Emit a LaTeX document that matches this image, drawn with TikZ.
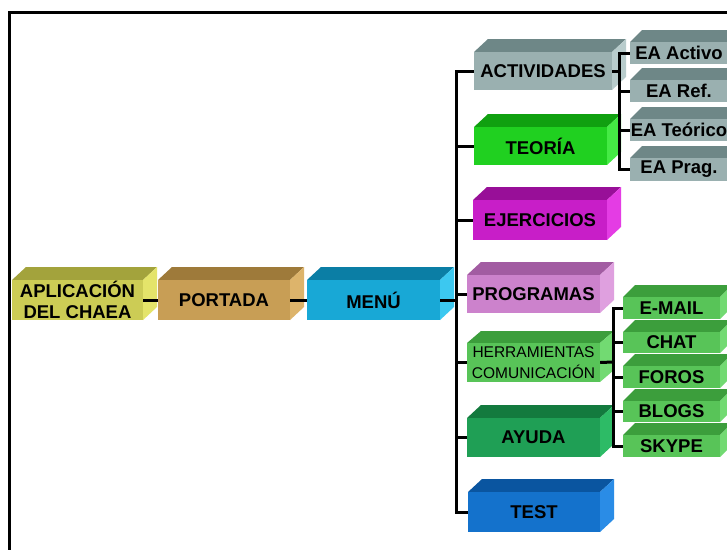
\documentclass[tikz,border=0pt]{standalone}
\usepackage{fontspec}
\setmainfont{Liberation Sans}
\definecolor{aplifront}{HTML}{CCCC55}\definecolor{aplitop}{HTML}{A3A33C}\definecolor{apliside}{HTML}{E4E46A}
\definecolor{portfront}{HTML}{C89E55}\definecolor{porttop}{HTML}{9E7A3A}\definecolor{portside}{HTML}{DDB46B}
\definecolor{menufront}{HTML}{18A8D6}\definecolor{menutop}{HTML}{0B7EA5}\definecolor{menuside}{HTML}{3CC8F0}
\definecolor{actfront}{HTML}{9AB0B0}\definecolor{acttop}{HTML}{6E8787}\definecolor{actside}{HTML}{B8CCCC}
\definecolor{teofront}{HTML}{20D020}\definecolor{teotop}{HTML}{10A010}\definecolor{teoside}{HTML}{44EA44}
\definecolor{ejefront}{HTML}{C81EC8}\definecolor{ejetop}{HTML}{980F98}\definecolor{ejeside}{HTML}{E43CE4}
\definecolor{progfront}{HTML}{CC82CC}\definecolor{progtop}{HTML}{A25CA2}\definecolor{progside}{HTML}{DFA0DF}
\definecolor{herrfront}{HTML}{58C458}\definecolor{herrtop}{HTML}{3C9E3C}\definecolor{herrside}{HTML}{72DA72}
\definecolor{ayufront}{HTML}{1F9F55}\definecolor{ayutop}{HTML}{137A3E}\definecolor{ayuside}{HTML}{2DBB66}
\definecolor{testfront}{HTML}{1472CC}\definecolor{testtop}{HTML}{0A55A0}\definecolor{testside}{HTML}{2A8CE6}
\tikzset{
  cubefront/.style={inner sep=0pt, text=black, align=center, font=\bfseries\fontsize{18.5}{21}\selectfont},
  conn/.style={line width=3pt, black},
  frameline/.style={line width=2.5pt, black}
}
% #1 name, #2 x1, #3 y1, #4 x2, #5 y2, #6 colour prefix, #7 dx, #8 dy, #9 text
\newcommand\cubebox[9]{%
  \fill[#6top] (#2,#3) -- ++(#7,-#8) -- ({#4+#7},{#3-#8}) -- (#4,#3) -- cycle;
  \fill[#6side] (#4,#3) -- ++(#7,-#8) -- ({#4+#7},{#5-#8}) -- (#4,#5) -- cycle;
  \node[cubefront, fill=#6front, minimum width={(#4-#2)*1pt}, minimum height={(#5-#3)*1pt}] (#1) at ({(#2+#4)/2},{(#3+#5)/2}) {#9};
}
\begin{document}
\begin{tikzpicture}[x=1pt,y=-1pt]
\useasboundingbox (0,0) rectangle (727,549);
\fill[white] (0,0) rectangle (727,549);
\draw[frameline] (9.5,12.5) rectangle (760,580);
% main chain
\cubebox{apli}{12}{280}{143}{320}{apli}{14}{13}{APLICACIÓN\\DEL CHAEA}
\cubebox{port}{158}{280}{290}{320}{port}{14}{13}{PORTADA}
\cubebox{menu}{307}{280}{440}{320}{menu}{14}{13}{MENÚ}
% menu children
\cubebox{act}{474}{52}{612}{90}{act}{14}{13}{ACTIVIDADES}
\cubebox{teo}{474}{127}{607}{165}{teo}{14}{13}{TEORÍA}
\cubebox{eje}{473}{200}{607}{240}{eje}{14}{13}{EJERCICIOS}
\cubebox{prog}{467}{275}{600}{313}{prog}{14}{13}{PROGRAMAS}
\cubebox{herr}{467}{343}{600}{382}{herr}{14}{12}{\mdseries\fontsize{15.5}{19}\selectfont HERRAMIENTAS\\\mdseries\fontsize{15.5}{19}\selectfont COMUNICACIÓN}
\cubebox{ayu}{467}{418}{600}{457}{ayu}{14}{13}{AYUDA}
\cubebox{test}{468}{492}{600}{532}{test}{14}{13}{TEST}
% EA children
\cubebox{eaact}{630}{42}{728}{64}{act}{12}{12}{EA Activo}
\cubebox{earef}{630}{80}{728}{102}{act}{12}{12}{EA Ref.}
\cubebox{eateo}{630}{119}{728}{141}{act}{12}{12}{EA Teórico}
\cubebox{eaprag}{630}{158}{728}{181}{act}{12}{12}{EA Prag.}
% communication children
\cubebox{mail}{623}{297}{720}{319}{herr}{12}{12}{E-MAIL}
\cubebox{chat}{623}{332}{720}{353}{herr}{12}{12}{CHAT}
\cubebox{foros}{623}{366}{720}{388}{herr}{12}{12}{FOROS}
\cubebox{blogs}{623}{401}{720}{422}{herr}{12}{12}{BLOGS}
\cubebox{skype}{623}{435}{720}{457}{herr}{12}{12}{SKYPE}
% connectors
\coordinate (trunk) at (456,300);
\coordinate (eatrunk) at (619,71);
\coordinate (comtrunk) at (613,362);
\draw[conn] (apli.east) -- (port.west);
\draw[conn] (port.east) -- (menu.west);
\draw[conn] (menu.east) -- (trunk);
\foreach \c in {act,teo,eje,prog,herr,ayu,test}
  \draw[conn] (trunk) |- (\c.west);
\draw[conn] (act.east) -- (eatrunk);
\foreach \c in {eaact,earef,eateo,eaprag}
  \draw[conn] (eatrunk) |- (\c.west);
\draw[conn] (herr.east) -- (comtrunk);
\foreach \c in {mail,chat,foros,blogs,skype}
  \draw[conn] (comtrunk) |- (\c.west);
\end{tikzpicture}
\end{document}
